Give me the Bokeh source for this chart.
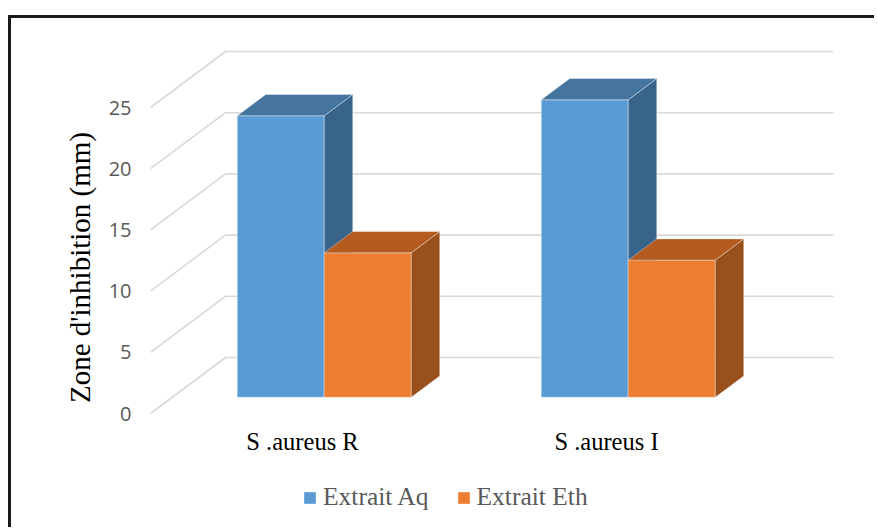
from bokeh.plotting import figure
from bokeh.models import FixedTicker, Legend, LegendItem, ColumnDataSource
from bokeh.embed import file_html
from bokeh.resources import INLINE

# ---------------- data ----------------
categories = ["S .aureus R", "S .aureus I"]
series_names = ["Extrait Aq", "Extrait Eth"]
extrait_aq = [23.0, 24.3]
extrait_eth = [11.8, 11.2]
y_ticks = [0, 5, 10, 15, 20, 25]
y_title = "Zone d'inhibition (mm)"

# ---------------- styles ----------------
front_colors = ["#5B9BD5", "#ED7D31"]
top_colors = ["#45749F", "#B45B20"]
side_colors = ["#38648B", "#99501C"]
grid_color = "#D9D9D9"

# ---------------- geometry (pixels) ----------------
OFF_X, OFF_Y = 11, 18          # canvas origin inside the window (after outer border)
W, H = 877 - OFF_X, 530 - OFF_Y
BORDER_LEFT = 150 - OFF_X
BORDER_BOTTOM = 14
CAT_PX = 304          # width of one category on the front plane
UNIT_PX = 12.24       # pixels per mm
ZERO_Y = 413 - OFF_Y  # canvas y of value 0 on the front plane
DEPTH_DX_PX = 75      # oblique depth offset
DEPTH_DY_PX = 56
BAR_PX = 87
FRONT_D, BACK_D = 0.29, 0.67   # bar depth band (fraction of depth)

frame_w = W - BORDER_LEFT
frame_h = H - BORDER_BOTTOM
x_end = frame_w / CAT_PX
y_start = -(frame_h - ZERO_Y) / UNIT_PX
y_end = ZERO_Y / UNIT_PX
DX = DEPTH_DX_PX / CAT_PX
DY = DEPTH_DY_PX / UNIT_PX
BW = BAR_PX / CAT_PX
GAP = (1 - 2 * BW) / 2

p = figure(width=W, height=H, x_range=(0, x_end), y_range=(y_start, y_end),
           output_backend="svg", toolbar_location=None, x_axis_location=None,
           min_border_left=BORDER_LEFT, min_border_right=0, min_border_top=0,
           min_border_bottom=BORDER_BOTTOM)
p.styles = {"margin-left": "8px", "margin-top": "15px",
            "border-left": "3px solid #1a1a1a", "border-top": "3px solid #1a1a1a"}
p.outline_line_color = None
p.grid.visible = False
p.background_fill_color = "white"
p.border_fill_color = "white"

ax = p.yaxis[0]
ax.ticker = FixedTicker(ticks=y_ticks)
ax.axis_line_color = None
ax.major_tick_line_color = None
ax.minor_tick_line_color = None
ax.major_tick_out = 0
ax.major_tick_in = 0
ax.major_label_standoff = 19
ax.major_label_text_font = "Open Sans"
ax.major_label_text_font_size = "20px"
ax.major_label_text_color = "#595959"
ax.axis_label = y_title
ax.axis_label_text_font = "Liberation Serif"
ax.axis_label_text_font_size = "29px"
ax.axis_label_text_font_style = "normal"
ax.axis_label_text_color = "black"
ax.axis_label_standoff = 10

# ---------------- oblique gridlines ----------------
gx, gy = [], []
n_cat = len(categories)
for t in y_ticks:
    gx.append([0, DX, n_cat + DX])
    gy.append([t, t + DY, t + DY])
p.multi_line(xs=gx, ys=gy, line_color=grid_color, line_width=1.6)

# ---------------- 3D bars ----------------
series_vals = [extrait_aq, extrait_eth]
fx_f, fy_f = FRONT_D * DX, FRONT_D * DY
fx_b, fy_b = BACK_D * DX, BACK_D * DY
front_renderers = []
for j, vals in enumerate(series_vals):
    fxs, fys, sxs, sys_, txs, tys = [], [], [], [], [], []
    for i, v in enumerate(vals):
        x0 = i + GAP + j * BW
        x1 = x0 + BW
        fxs.append([x0 + fx_f, x1 + fx_f, x1 + fx_f, x0 + fx_f])
        fys.append([fy_f, fy_f, v + fy_f, v + fy_f])
        sxs.append([x1 + fx_f, x1 + fx_b, x1 + fx_b, x1 + fx_f])
        sys_.append([fy_f, fy_b, v + fy_b, v + fy_f])
        txs.append([x0 + fx_f, x1 + fx_f, x1 + fx_b, x0 + fx_b])
        tys.append([v + fy_f, v + fy_f, v + fy_b, v + fy_b])
    fr = p.patches(xs=fxs, ys=fys, fill_color=front_colors[j],
                   line_color="white", line_alpha=0.35, line_width=1)
    p.patches(xs=sxs, ys=sys_, fill_color=side_colors[j],
              line_color="white", line_alpha=0.35, line_width=1)
    p.patches(xs=txs, ys=tys, fill_color=top_colors[j],
              line_color="white", line_alpha=0.35, line_width=1)
    front_renderers.append(fr)

# ---------------- category labels ----------------
LABEL_OFFSET_PX = 28
cat_src = ColumnDataSource(dict(x=[i + 0.5 for i in range(n_cat)],
                                y=[-LABEL_OFFSET_PX / UNIT_PX] * n_cat,
                                t=categories))
p.text(x="x", y="y", text="t", source=cat_src, text_align="center",
       text_baseline="middle", text_font={"value": "Liberation Serif"},
       text_font_size="24.5px", text_color="black")

# ---------------- legend ----------------
legend = Legend(items=[LegendItem(label=series_names[k], renderers=[front_renderers[k]])
                       for k in range(len(series_names))],
                orientation="horizontal", location=(152, 4),
                padding=0, margin=0, spacing=27, label_standoff=6,
                glyph_width=15, glyph_height=15,
                label_text_font="Liberation Serif", label_text_font_size="25.5px",
                label_text_color="#595959", border_line_color=None,
                background_fill_alpha=0)
p.add_layout(legend)

open("out.html", "w").write(file_html(p, INLINE))
